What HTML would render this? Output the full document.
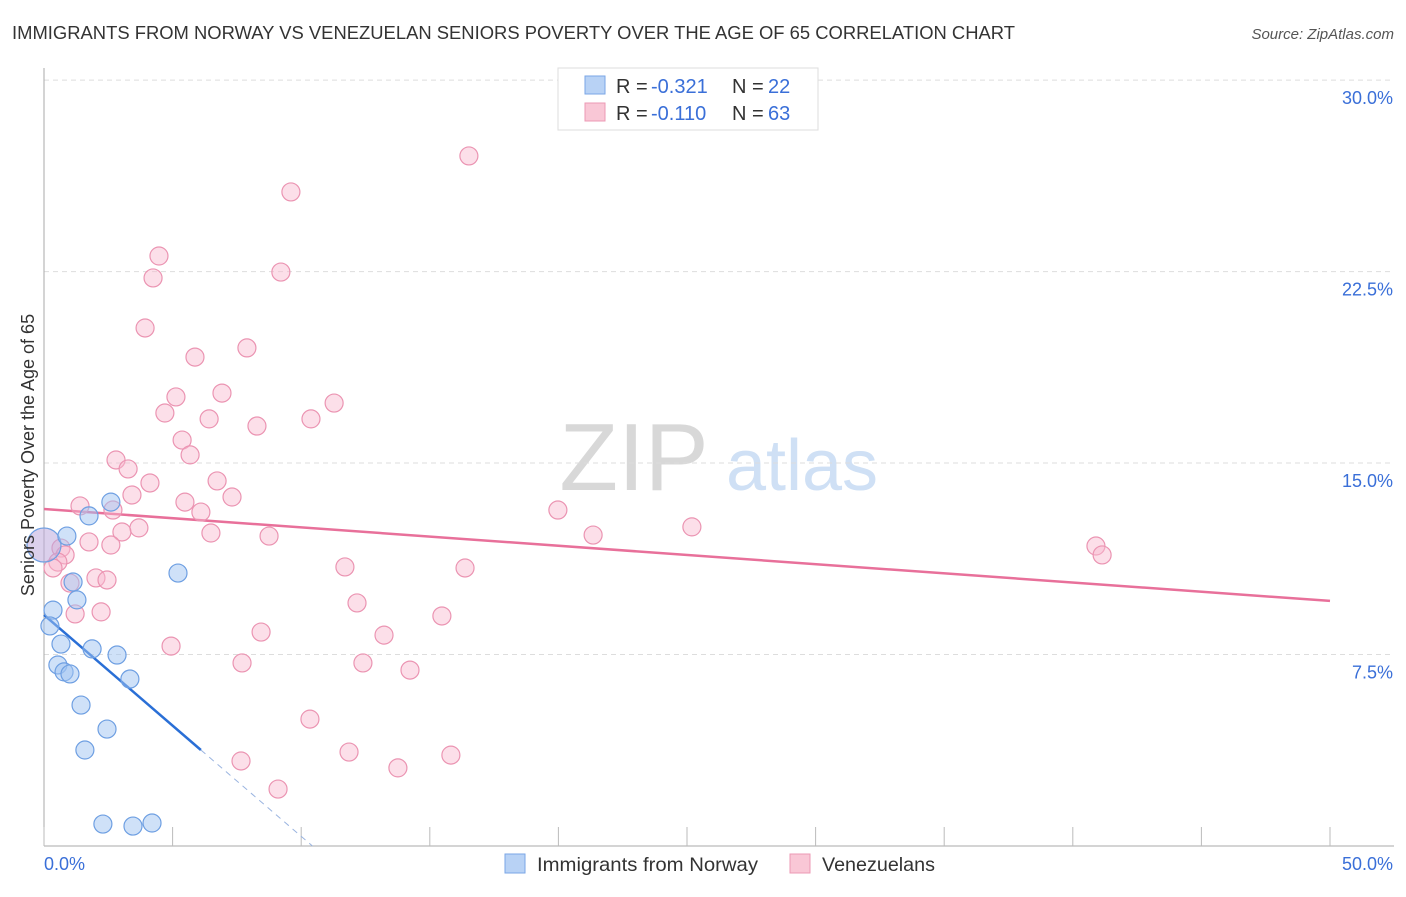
<!DOCTYPE html>
<html><head><meta charset="utf-8"><style>
body{margin:0;background:#fff;font-family:"Liberation Sans",sans-serif}
svg text{font-family:"Liberation Sans",sans-serif}
</style></head><body>
<svg id="chart" width="1406" height="892" xmlns="http://www.w3.org/2000/svg">
<text x="12" y="39" font-size="18" fill="#333" textLength="1003" lengthAdjust="spacingAndGlyphs">IMMIGRANTS FROM NORWAY VS VENEZUELAN SENIORS POVERTY OVER THE AGE OF 65 CORRELATION CHART</text>
<text x="1394" y="39" font-size="15" fill="#555" font-style="italic" text-anchor="end">Source: ZipAtlas.com</text>
<g><text x="634" y="490" font-size="96" fill="#d8d8d8" font-family="Liberation Serif" text-anchor="middle">ZIP</text><text x="802" y="490" font-size="72" fill="#cfe0f5" text-anchor="middle">atlas</text></g>
<g id="grid"></g><g id="axes"></g><g id="lines"></g><g id="points"></g>
<text transform="translate(34,455) rotate(-90)" font-size="18" fill="#333" text-anchor="middle">Seniors Poverty Over the Age of 65</text>
<g>
<rect x="558" y="68" width="260" height="62" fill="#fff" stroke="#ddd"/>
<rect x="585" y="76" width="20" height="18" fill="#b8d2f5" stroke="#7aa6e6"/>
<rect x="585" y="103" width="20" height="18" fill="#f9c7d6" stroke="#ec9ab4"/>
<text y="93" font-size="20" fill="#333"><tspan x="616">R =</tspan><tspan x="651" fill="#3a6fd8">-0.321</tspan><tspan x="732">N =</tspan><tspan x="768" fill="#3a6fd8">22</tspan></text>
<text y="120" font-size="20" fill="#333"><tspan x="616">R =</tspan><tspan x="651" fill="#3a6fd8">-0.110</tspan><tspan x="732">N =</tspan><tspan x="768" fill="#3a6fd8">63</tspan></text>
</g>
<g>
<rect x="505" y="854" width="20" height="19" fill="#b8d2f5" stroke="#7aa6e6"/>
<text x="537" y="871" font-size="19.5" fill="#333" textLength="221" lengthAdjust="spacingAndGlyphs">Immigrants from Norway</text>
<rect x="790" y="854" width="20" height="19" fill="#f9c7d6" stroke="#ec9ab4"/>
<text x="822" y="871" font-size="19.5" fill="#333" textLength="113" lengthAdjust="spacingAndGlyphs">Venezuelans</text>
</g>
</svg>
<script>
const yTicks=[7.5,15,22.5,30];
const yTickLabels=["7.5%","15.0%","22.5%","30.0%"];
const xTicks=[0,5,10,15,20,25,30,35,40,45,50];
const norwayX=[0,0.35,0.23,0.54,0.66,0.78,1.01,0.89,1.13,1.28,1.44,1.59,1.87,1.75,2.29,2.45,2.60,2.84,3.34,3.46,4.20,5.21];
const norwayY=[11.79,9.24,8.62,7.09,7.91,6.82,6.74,12.14,10.34,9.64,5.52,3.76,7.72,12.93,0.86,4.58,13.47,7.48,6.54,0.78,0.90,10.69];
const venX=[16.52,9.60,4.47,4.24,9.21,3.93,5.87,7.89,6.92,5.13,11.28,4.70,6.42,8.28,10.38,5.37,5.68,2.80,3.27,4.12,6.73,3.42,7.31,5.48,1.40,2.68,6.10,3.69,3.03,6.49,8.75,19.98,21.35,25.19,40.90,41.14,1.75,2.60,0.66,0.82,0.54,0.35,11.70,16.37,2.02,2.45,1.01,2.22,1.21,12.17,15.47,8.44,13.22,4.94,7.70,12.40,14.23,10.34,7.66,11.86,15.82,13.76,9.10];
const venY=[27.03,25.62,23.11,22.25,22.48,20.29,19.15,19.51,17.74,17.59,17.35,16.96,16.73,16.45,16.73,15.90,15.32,15.12,14.77,14.22,14.30,13.75,13.67,13.47,13.32,13.16,13.08,12.46,12.30,12.26,12.14,13.16,12.18,12.50,11.75,11.40,11.91,11.79,11.67,11.40,11.12,10.89,10.93,10.89,10.50,10.42,10.30,9.17,9.09,9.52,9.01,8.38,8.26,7.83,7.17,7.17,6.89,4.97,3.33,3.68,3.56,3.06,2.23];
const venTrend=[13.2,9.6];
const norTrend=[9.05,3.76,6.1];
const NS="http://www.w3.org/2000/svg";
const X=v=>44+v*25.72, Y=v=>846-v*25.53;
function mk(t,a,p){const e=document.createElementNS(NS,t);for(const k in a)e.setAttribute(k,a[k]);document.getElementById(p).appendChild(e);return e;}
yTicks.forEach((t,i)=>{
 const g=mk('line',{x1:44,x2:1394,y1:Y(t),y2:Y(t),stroke:'#ddd','stroke-dasharray':'5,4'},'grid');
 
 
 const l=mk('text',{x:1393,y:Y(t)+24,'font-size':18,fill:'#3a6fd8','text-anchor':'end'},'axes');
 l.textContent=yTickLabels[i];
 
 
});
const ya=mk('line',{x1:44,x2:44,y1:68,y2:846,stroke:'#aaa'},'axes');


const xa=mk('line',{x1:44,x2:1394,y1:846,y2:846,stroke:'#aaa'},'axes');


xTicks.forEach(t=>{const k=mk('line',{x1:X(t),x2:X(t),y1:827,y2:846,stroke:'#bbb'},'axes');
 
 });
const x0=mk('text',{x:44,y:870,'font-size':18,fill:'#3a6fd8'},'axes');x0.textContent='0.0%';


const x1=mk('text',{x:1393,y:870,'font-size':18,fill:'#3a6fd8','text-anchor':'end'},'axes');x1.textContent='50.0%';


const vt=mk('line',{x1:X(0),y1:Y(venTrend[0]),x2:X(50),y2:Y(venTrend[1]),stroke:'#e8709a','stroke-width':2.5},'lines');


const slope=(norTrend[1]-norTrend[0])/norTrend[2];
const nt=mk('line',{x1:X(0),y1:Y(norTrend[0]),x2:X(norTrend[2]),y2:Y(norTrend[1]),stroke:'#2a6fd6','stroke-width':2.5},'lines');


const xe=-norTrend[0]/slope;
const nd=mk('line',{x1:X(norTrend[2]),y1:Y(norTrend[1]),x2:X(xe),y2:Y(0),stroke:'#9ab4e0','stroke-width':1,'stroke-dasharray':'6,5'},'lines');


venX.forEach((v,i)=>{const c=mk('circle',{cx:X(v),cy:Y(venY[i]),r:9,fill:'rgba(248,185,206,0.45)',stroke:'#eb94b2','stroke-width':1.2},'points');
 
 });
norwayX.forEach((v,i)=>{const c=mk('circle',{cx:X(v),cy:Y(norwayY[i]),r:i===0?17:9,fill:i===0?'rgba(190,170,220,0.55)':'rgba(160,196,242,0.5)',stroke:'#6e9fe2','stroke-width':1.2},'points');
 
 });
</script>
</body></html>
